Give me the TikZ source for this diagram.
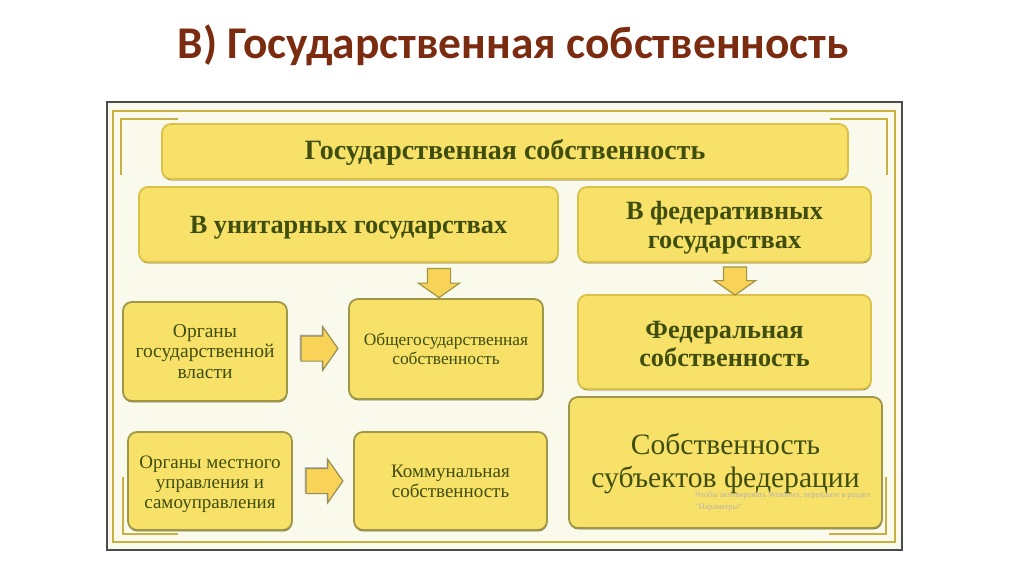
\documentclass[tikz,border=0pt]{standalone}
\usepackage{fontspec}
\setmainfont{Liberation Serif}
\newfontfamily\titlefont{Carlito}
\usetikzlibrary{shapes.arrows,shadows}

\definecolor{titlebrown}{HTML}{7B2C10}
\definecolor{paper}{HTML}{F9F9EC}
\definecolor{framegold}{HTML}{C9B042}
\definecolor{boxfill}{HTML}{F8E168}
\definecolor{boxedge}{HTML}{DCC04A}
\definecolor{boxshade}{HTML}{6E6C38}
\definecolor{olivedge}{HTML}{A09648}
\definecolor{textgreen}{HTML}{3F4E0E}

\newcommand{\dropstrut}[1]{\rule{0pt}{#1}}

\tikzset{
  card/.style={draw=boxedge,line width=1.8pt,fill=boxfill,rounded corners=9pt,align=center,
    text=textgreen,inner sep=0pt,
    drop shadow={shadow xshift=0.3pt,shadow yshift=-1.4pt,fill=boxshade,opacity=1}},
  darkcard/.style={card,draw=olivedge},
  headtext/.style={font=\bfseries\fontsize{26.3}{29}\selectfont},
  fatarrow/.style={single arrow,line width=1.2pt,fill=boxfill!85!orange,
    single arrow head extend=9pt,single arrow tip angle=110},
  downarrow/.style={fatarrow,draw=olivedge,shape border rotate=270,inner xsep=11pt,inner ysep=0pt},
  rightarrow/.style={fatarrow,draw=olivedge!70!gray,inner xsep=0pt,inner ysep=12pt,
    drop shadow={shadow xshift=-1.2pt,shadow yshift=1.2pt,fill=blue!25!gray!40,opacity=1}},
  corner/.style={draw=framegold,line width=1.3pt}
}

\begin{document}
\begin{tikzpicture}[x=1pt,y=-1pt]
  \useasboundingbox (0,0) rectangle (1024,574);

  % Title
  \node[font=\titlefont\bfseries\fontsize{45.4}{50}\selectfont,text=titlebrown] (title) at (513.5,45) {В) Государственная собственность};

  % Frame
  \filldraw[draw=black!70,fill=paper,line width=1.3pt] (107,102) rectangle (902,550);
  \draw[framegold,line width=1.3pt] (113,111) rectangle (895,542);
  \draw[corner] (178,119) -- (121,119) -- (121,175);
  \draw[corner] (830,119) -- (887,119) -- (887,175);
  \draw[corner] (123,477) -- (123,534) -- (178,534);
  \draw[corner] (886,477) -- (886,534) -- (829,534);

  % Upper row
  \node[card,font=\bfseries\fontsize{28}{30}\selectfont,minimum width=686pt,minimum height=55pt] (main) at (505,151.5) {\dropstrut{23pt}Государственная собственность};
  \node[card,headtext,minimum width=419pt,minimum height=75pt] (unitary) at (348.5,224.5) {\dropstrut{24pt}В унитарных государствах};
  \node[card,headtext,minimum width=293pt,minimum height=75pt] (federative) at (724.5,224.5) {\dropstrut{24pt}В федеративных\\государствах};

  % Left boxes
  \node[darkcard,font=\fontsize{19.5}{20.8}\selectfont,minimum width=164pt,minimum height=99pt] (organs) at (205,351.5) {Органы\\государственной\\власти};
  \node[darkcard,font=\fontsize{17.4}{18.6}\selectfont,minimum width=194pt,minimum height=100pt] (national) at (446,349) {Общегосударственная\\собственность};
  \node[darkcard,font=\fontsize{19}{20}\selectfont,minimum width=164pt,minimum height=98pt] (localorgans) at (210,481) {\dropstrut{19pt}Органы местного\\управления и\\самоуправления};
  \node[darkcard,font=\fontsize{19}{20}\selectfont,minimum width=193pt,minimum height=98pt] (communal) at (450.5,481) {Коммунальная\\собственность};

  % Right boxes
  \node[card,font=\bfseries\fontsize{26.3}{28}\selectfont,minimum width=293pt,minimum height=94pt] (federal) at (724.5,342) {\dropstrut{21pt}Федеральная\\собственность};
  \node[darkcard,font=\fontsize{29.6}{33}\selectfont,minimum width=313pt,minimum height=131pt] (subjects) at (725.5,462.5) {\dropstrut{23pt}Собственность\\субъектов федерации};

  % Windows note
  \node[font=\fontsize{8.2}{12}\selectfont,text=black!30,align=left,anchor=north west,inner sep=0pt] (note) at (695,491) {Чтобы активировать Windows, перейдите в раздел\\"Параметры".};

  % Arrows
  \node[downarrow,minimum height=29pt] (downleft) at (439,279) {};
  \node[downarrow,minimum height=28pt] (downright) at (735,277) {};
  \node[rightarrow,minimum height=37pt] (rightupper) at (315,348.5) {};
  \node[rightarrow,minimum height=37pt] (rightlower) at (320,481) {};
\end{tikzpicture}
\end{document}
